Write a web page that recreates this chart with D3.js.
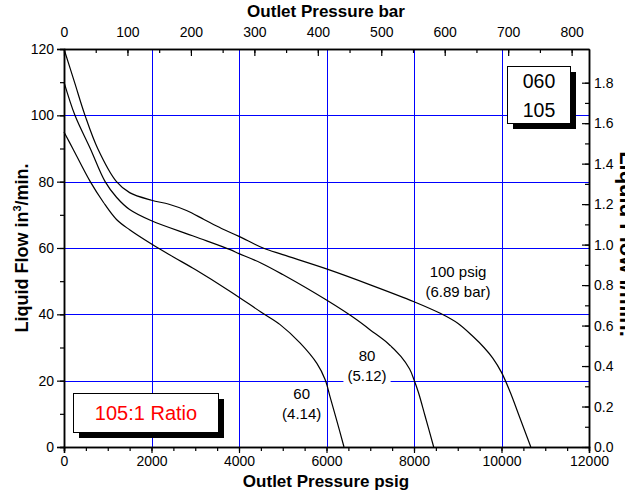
<!DOCTYPE html>
<html>
<head>
<meta charset="utf-8">
<script src="https://cdn.jsdelivr.net/npm/d3@7"></script>
<style>
  html, body { margin: 0; padding: 0; background: #fff; }
  svg { display: block; font-family: Arial, "Liberation Sans", sans-serif; }
</style>
</head>
<body>
<div id="chart"></div>
<script>
// ---- data ----
var psiTicks  = [0, 2000, 4000, 6000, 8000, 10000, 12000];
var barTicks  = [0, 100, 200, 300, 400, 500, 600, 700, 800];
var flowTicks = [0, 20, 40, 60, 80, 100, 120];
var lpmTicks  = [0, 0.2, 0.4, 0.6, 0.8, 1.0, 1.2, 1.4, 1.6, 1.8];
var gridPsi   = [2000, 4000, 6000, 8000, 10000];
var gridFlow  = [20, 40, 60, 80, 100];

// 100 psig inlet
var psi100  = [0, 240, 480, 770, 1200, 1500, 2000, 2400, 2800, 3200, 3600, 4000, 4550, 5000, 6000, 7000, 8000, 8600, 9000, 9350, 9600, 9800, 10000, 10200, 10400, 10670];
var flow100 = [120, 110, 100, 90, 80, 76.7, 74.4, 73.2, 71.3, 68.6, 65.9, 63.5, 60, 58, 53.7, 48.9, 43.8, 40.3, 37.3, 33.3, 30, 26.8, 22.5, 16.5, 9.5, 0];
// 80 psig inlet
var psi80   = [0, 250, 600, 940, 1200, 1500, 2000, 3000, 3800, 4000, 4500, 5000, 6000, 6700, 7000, 7400, 7700, 7900, 8000, 8100, 8250, 8450];
var flow80  = [110, 100, 90, 80, 75.3, 71.6, 68.2, 63.4, 59.5, 58.3, 55.5, 52, 44.3, 38.3, 35.3, 31.3, 27.3, 23.5, 20.3, 16.5, 9.5, 0];
// 60 psig inlet
var psi60   = [0, 200, 600, 900, 1200, 1500, 2000, 2500, 3000, 3800, 4500, 4940, 5400, 5780, 5970, 6080, 6230, 6400];
var flow60  = [95, 90, 80, 73.8, 68.6, 65.5, 61.2, 57.3, 53.5, 46.9, 40.7, 36.9, 31.3, 25.2, 20.3, 15.2, 8.2, 0];

var seriesNames = ["100 psig", "80", "60"];
var seriesBars  = ["(6.89 bar)", "(5.12)", "(4.14)"];
var modelLines  = ["060", "105"];
var ratioText   = "105:1 Ratio";

// ---- layout ----
var W = 625, H = 492;
var PSI_TO_BAR = 0.0689476, IN3_TO_L = 0.016387064;

var svg = d3.select("#chart").append("svg")
    .attr("width", W)
    .attr("height", H);

var x    = d3.scaleLinear().domain([0, 12000]).range([64, 589]);
var xBar = d3.scaleLinear().domain([0, 12000 * PSI_TO_BAR]).range([64, 589]);
var y    = d3.scaleLinear().domain([0, 120]).range([447, 49]);
var yL   = d3.scaleLinear().domain([0, 120 * IN3_TO_L]).range([447, 49]);

// grid
var grid = svg.append("g").attr("stroke", "#0000ff").attr("stroke-width", 1);
grid.selectAll("line.v").data(gridPsi).enter().append("line")
    .attr("x1", function (d) { return Math.round(x(d)) + 0.5; })
    .attr("x2", function (d) { return Math.round(x(d)) + 0.5; })
    .attr("y1", y(0)).attr("y2", y(120));
grid.selectAll("line.h").data(gridFlow).enter().append("line")
    .attr("y1", function (d) { return Math.round(y(d)) + 0.5; })
    .attr("y2", function (d) { return Math.round(y(d)) + 0.5; })
    .attr("x1", x(0)).attr("x2", x(12000));

// curves
var line = d3.line()
    .x(function (d) { return x(d[0]); })
    .y(function (d) { return y(d[1]); })
    .curve(d3.curveCatmullRom.alpha(0.5));

[[psi100, flow100], [psi80, flow80], [psi60, flow60]].forEach(function (s) {
    svg.append("path")
        .datum(d3.zip(s[0], s[1]))
        .attr("d", line)
        .attr("fill", "none")
        .attr("stroke", "#000")
        .attr("stroke-width", 1.2);
});

// curve labels (white backing, as in the reference)
var labelAt = [[9006, 51.4], [6926, 25.8], [5433, 14.5]];
labelAt.forEach(function (p, i) {
    var g = svg.append("g").attr("transform", "translate(" + x(p[0]) + "," + y(p[1]) + ")");
    var bg = g.append("rect").attr("fill", "#fff");
    var t = g.append("text")
        .attr("text-anchor", "middle")
        .attr("font-size", 15)
        .attr("fill", "#000");
    t.append("tspan").attr("x", 0).attr("y", 0).text(seriesNames[i]);
    t.append("tspan").attr("x", 0).attr("y", 20).text(seriesBars[i]);
    var bb = t.node().getBBox();
    bg.attr("x", bb.x - 4).attr("y", bb.y - 1).attr("width", bb.width + 8).attr("height", bb.height + 2);
});

// shadowed boxes
function shadowBox(bx, by, bw, bh) {
    svg.append("rect").attr("x", bx + 6).attr("y", by + 6).attr("width", bw).attr("height", bh).attr("fill", "#000");
    svg.append("rect").attr("x", bx + 0.5).attr("y", by + 0.5).attr("width", bw).attr("height", bh)
        .attr("fill", "#fff").attr("stroke", "#000").attr("stroke-width", 1);
}

shadowBox(507, 66, 63, 57);
svg.selectAll("text.model").data(modelLines).enter().append("text")
    .attr("x", 539).attr("y", function (d, i) { return 88 + i * 29; })
    .attr("text-anchor", "middle").attr("font-size", 19.5).text(function (d) { return d; });

shadowBox(73, 393, 145, 39);
svg.append("text")
    .attr("x", 146).attr("y", 420)
    .attr("text-anchor", "middle").attr("font-size", 20).attr("fill", "#ff0000")
    .text(ratioText);

// axes
function styleAxis(g) {
    g.selectAll("path.domain").attr("stroke", "#000").attr("stroke-width", 1.5);
    g.selectAll(".tick line").attr("stroke", "#000").attr("stroke-width", 1.2);
    g.selectAll(".tick text").attr("font-size", 14).attr("fill", "#000")
        .attr("font-family", "Arial, 'Liberation Sans', sans-serif");
}

// bottom psi
svg.append("g").attr("transform", "translate(0," + y(0) + ")")
    .call(d3.axisBottom(x).tickValues(d3.range(0, 12001, 500)).tickSize(4).tickFormat(""))
    .call(styleAxis);
svg.append("g").attr("transform", "translate(0," + y(0) + ")")
    .call(d3.axisBottom(x).tickValues(psiTicks).tickSize(6).tickPadding(3).tickFormat(d3.format("d")))
    .call(styleAxis);

// top bar
svg.append("g").attr("transform", "translate(0," + y(120) + ")")
    .call(d3.axisTop(xBar).tickValues(d3.range(0, 801, 50)).tickSizeInner(-4).tickSizeOuter(0).tickFormat(""))
    .call(styleAxis);
svg.append("g").attr("transform", "translate(0," + y(120) + ")")
    .call(d3.axisTop(xBar).tickValues(barTicks).tickSizeInner(-7).tickSizeOuter(0).tickPadding(12).tickFormat(d3.format("d")))
    .call(styleAxis);

// left flow
svg.append("g").attr("transform", "translate(" + x(0) + ",0)")
    .call(d3.axisLeft(y).tickValues(d3.range(0, 121, 10)).tickSize(4).tickFormat(""))
    .call(styleAxis);
svg.append("g").attr("transform", "translate(" + x(0) + ",0)")
    .call(d3.axisLeft(y).tickValues(flowTicks).tickSize(7).tickPadding(3).tickFormat(d3.format("d")))
    .call(styleAxis);

// right l/min
svg.append("g").attr("transform", "translate(" + x(12000) + ",0)")
    .call(d3.axisRight(yL).tickValues(d3.range(0, 19).map(function (d) { return d / 10; })).tickSizeInner(-4).tickSizeOuter(0).tickFormat(""))
    .call(styleAxis);
svg.append("g").attr("transform", "translate(" + x(12000) + ",0)")
    .call(d3.axisRight(yL).tickValues(lpmTicks).tickSizeInner(-7).tickSizeOuter(0).tickPadding(5).tickFormat(d3.format(".1f")))
    .call(styleAxis);

// axis titles
svg.append("text").attr("x", 326).attr("y", 17)
    .attr("text-anchor", "middle").attr("font-size", 17).attr("font-weight", "bold")
    .text("Outlet Pressure bar");
svg.append("text").attr("x", 326).attr("y", 487)
    .attr("text-anchor", "middle").attr("font-size", 17).attr("font-weight", "bold")
    .text("Outlet Pressure psig");

var yTitle = svg.append("text")
    .attr("transform", "translate(28," + (y(60)) + ") rotate(-90)")
    .attr("text-anchor", "middle").attr("font-size", 18).attr("font-weight", "bold");
yTitle.append("tspan").text("Liquid Flow in");
yTitle.append("tspan").attr("font-size", 11).attr("dy", -7).text("3");
yTitle.append("tspan").attr("dy", 7).text("/min.");

// right title: cut off by the page edge in the reference
svg.append("text")
    .attr("transform", "translate(620," + (y(60) - 4) + ") rotate(90)")
    .attr("text-anchor", "middle").attr("font-size", 22).attr("font-weight", "bold")
    .text("Liquid Flow l/min.");
</script>
</body>
</html>
